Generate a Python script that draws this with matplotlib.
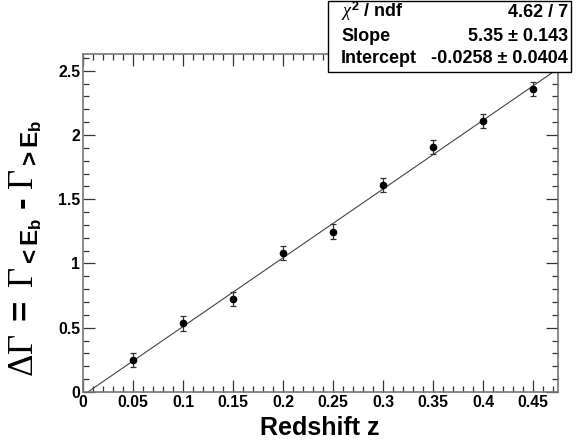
import matplotlib
matplotlib.use('Agg')
import matplotlib.pyplot as plt
from matplotlib.ticker import MultipleLocator
import numpy as np

# Data
redshift = [0.05, 0.10, 0.15, 0.20, 0.25, 0.30, 0.35, 0.40, 0.45]
delta_gamma = [0.249, 0.535, 0.724, 1.079, 1.247, 1.611, 1.904, 2.109, 2.356]
delta_gamma_err = [0.058, 0.058, 0.055, 0.055, 0.058, 0.055, 0.055, 0.055, 0.055]

# Linear fit results shown in the stats box
fit_slope = 5.35
fit_intercept = -0.0258
stats_labels = [r'$\chi^{\mathbf{2}}$ / ndf', 'Slope', 'Intercept']
stats_values = ['4.62 / 7', '5.35 \u00b1 0.143', '-0.0258 \u00b1 0.0404']

plt.rcParams['font.family'] = 'Liberation Sans'
plt.rcParams['font.weight'] = 'bold'
plt.rcParams['mathtext.fontset'] = 'custom'
plt.rcParams['mathtext.rm'] = 'Liberation Serif:weight=normal'
plt.rcParams['mathtext.it'] = 'Liberation Serif:italic:weight=normal'
plt.rcParams['mathtext.bf'] = 'Liberation Sans:bold'

W, H = 583, 448
fig = plt.figure(figsize=(W / 100, H / 100), dpi=100)
ax = fig.add_axes([83 / W, 1 - 392 / H, (558 - 83) / W, (392 - 54) / H])

# Fit line
xs = np.array([0.0, 0.475])
ax.plot(xs, fit_slope * xs + fit_intercept, color='#444444', lw=0.8, zorder=2)

# Data points with error bars
ax.errorbar(redshift, delta_gamma, yerr=delta_gamma_err, fmt='o', color='black',
            ms=4.5, ecolor='#333333', elinewidth=0.9, capsize=2, capthick=0.9, zorder=3)

ax.set_xlim(0, 0.475)
ax.set_ylim(0, 2.63)
ax.xaxis.set_minor_locator(MultipleLocator(0.01))
ax.yaxis.set_minor_locator(MultipleLocator(0.1))
ax.set_xticks([0, 0.05, 0.1, 0.15, 0.2, 0.25, 0.3, 0.35, 0.4, 0.45])
ax.set_xticklabels(['0', '0.05', '0.1', '0.15', '0.2', '0.25', '0.3', '0.35', '0.4', '0.45'])
ax.set_yticks([0, 0.5, 1, 1.5, 2, 2.5])
ax.set_yticklabels(['0', '0.5', '1', '1.5', '2', '2.5'])

ax.tick_params(which='both', direction='in', top=True, right=True,
               color='#333333', labelsize=11.3, width=0.9)
ax.tick_params(which='major', length=8.5, pad=2)
ax.tick_params(which='minor', length=4.3)
for sp in ax.spines.values():
    sp.set_color('#777777')
    sp.set_linewidth(1.2)

# Axis titles
fig.text(320 / W, 1 - 428 / H, 'Redshift z', ha='center', va='center',
         fontsize=18, fontweight='bold')
ylab = (r'$\Delta\Gamma\ \mathbf{=}\ \Gamma_{\mathbf{<E}_{\mathbf{b}}}\ \mathbf{'
        + '\u2010' + r'}\ \Gamma_{\mathbf{>E}_{\mathbf{b}}}$')
fig.text(26 / W, 1 - 248 / H, ylab, ha='center', va='center', rotation=90, fontsize=25)

# Stats box
box = plt.Rectangle((328 / W, 1 - 72 / H), (571 - 328) / W, (72 - 1) / H,
                    transform=fig.transFigure, facecolor='white',
                    edgecolor='black', lw=1.0, zorder=5)
fig.add_artist(box)
row_y = [17, 41, 63]
for lab, val, yy in zip(stats_labels, stats_values, row_y):
    fig.text(341 / W, 1 - yy / H, lab, ha='left', va='baseline', fontsize=13,
             fontweight='bold', zorder=6)
    fig.text(568 / W, 1 - yy / H, val, ha='right', va='baseline', fontsize=13,
             fontweight='bold', zorder=6)

fig.savefig('out.png', dpi=100)
